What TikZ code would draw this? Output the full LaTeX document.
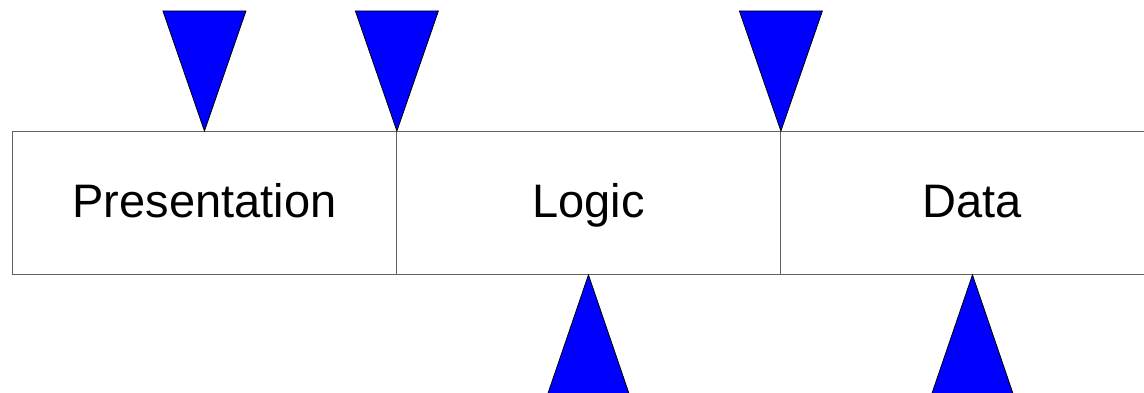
\documentclass[tikz,border=0pt]{standalone}
\usepackage{fontspec}
\setmainfont{Liberation Sans}
\begin{document}
\begin{tikzpicture}[x=1pt,y=-1pt,
  tier/.style={draw=black!62,line width=0.9pt,minimum width=384pt,minimum height=143pt,inner sep=0pt,text height=36pt,text depth=7pt,font=\fontsize{47}{50}\selectfont,anchor=north west},
  marker/.style={fill=blue,draw=black,line width=0.8pt,line join=miter}]
\useasboundingbox (0,0) rectangle (1144,393);
\clip (0,0) rectangle (1144,393);
\node[tier] (pres) at (12,131) {Presentation};
\node[tier] (logic) at (396,131) {Logic};
\node[tier] (data) at (780,131) {Data};
\foreach \p in {pres.north, pres.north east, logic.north east}{
  \draw[marker] (\p) -- ++(-41.5,-120) -- ++(83,0) -- cycle;
}
\foreach \p in {logic.south, data.south}{
  \draw[marker] (\p) -- ++(-41,120) -- ++(82,0) -- cycle;
}
\end{tikzpicture}
\end{document}
